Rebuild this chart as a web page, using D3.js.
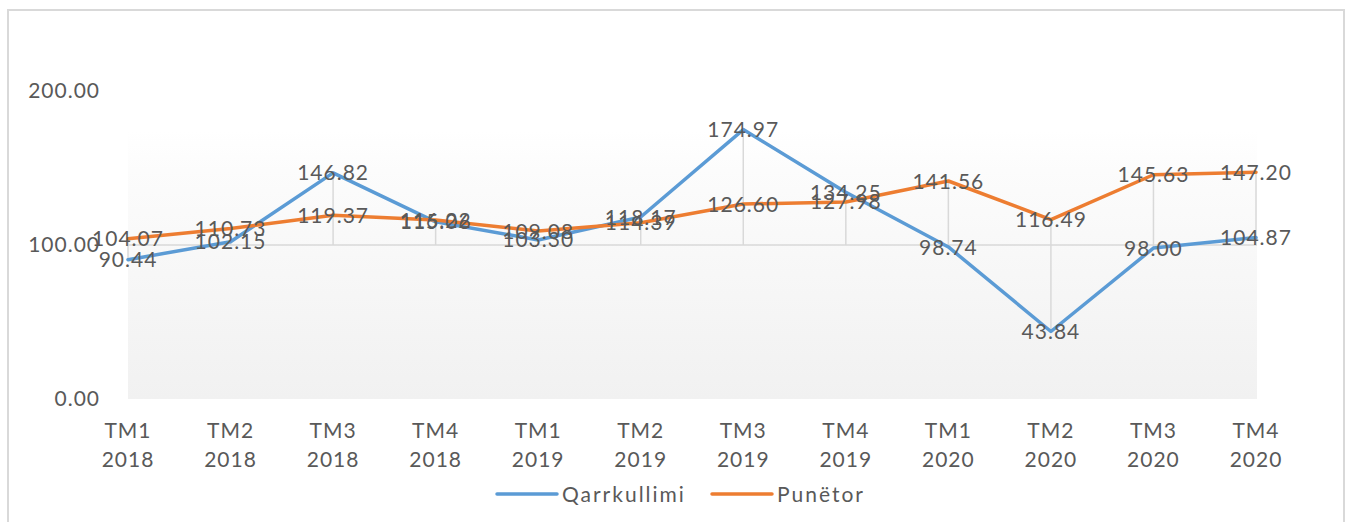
<!DOCTYPE html>
<html>
<head>
<meta charset="utf-8">
<script src="https://cdn.jsdelivr.net/npm/d3@7"></script>
<style>
  body { margin: 0; background: #fff; }
  text { font-family: Lato, "Open Sans", sans-serif; fill: #595959; }
</style>
</head>
<body>
<svg id="chart" width="1347" height="522"></svg>
<script>
// quarters shown on the category axis
let quarters = ['TM1', 'TM2', 'TM3', 'TM4', 'TM1', 'TM2', 'TM3', 'TM4', 'TM1', 'TM2', 'TM3', 'TM4'];
let years = ['2018', '2018', '2018', '2018', '2019', '2019', '2019', '2019', '2020', '2020', '2020', '2020'];
let categories = quarters.map((q, i) => q + ' ' + years[i]);

// series values
let qarrkullimi = [90.44, 102.15, 146.82, 115.06, 103.30, 118.17, 174.97, 134.25, 98.74, 43.84, 98.00, 104.87];
let punetor = [104.07, 110.73, 119.37, 116.22, 109.08, 114.39, 126.60, 127.98, 141.56, 116.49, 145.63, 147.20];

let seriesNames = ['Qarrkullimi', 'Punëtor'];
let seriesColors = ['#5B9BD5', '#ED7D31'];
let yTicks = [0, 100, 200];
let axisCross = 100;

let PLOT_LEFT = 128
let PLOT_RIGHT = 1257
let PLOT_TOP = 130

let svg = d3.select('#chart');

// chart area border
svg.append('rect')
    .attr('x', 8).attr('y', 10)
    .attr('width', 1336).attr('height', 540)
    .attr('fill', '#fff')
    .attr('stroke', '#d9d9d9')
    .attr('stroke-width', 2);

// x and y scales
let xScale = d3.scalePoint()
    .domain(categories)
    .range([PLOT_LEFT, PLOT_RIGHT - 1]);

let yScale = d3.scaleLinear()
    .domain([0, 200])
    .range([399, 91]);

// plot area gradient
let grad = svg.append('defs').append('linearGradient')
    .attr('id', 'plotGrad')
    .attr('x1', 0).attr('y1', 0).attr('x2', 0).attr('y2', 1);
grad.append('stop').attr('offset', '0%').attr('stop-color', '#ffffff');
grad.append('stop').attr('offset', '15%').attr('stop-color', '#fcfcfc');
grad.append('stop').attr('offset', '100%').attr('stop-color', '#f1f1f1');

svg.append('rect')
    .attr('x', PLOT_LEFT)
    .attr('y', PLOT_TOP)
    .attr('width', PLOT_RIGHT - PLOT_LEFT)
    .attr('height', yScale(0) - PLOT_TOP)
    .attr('fill', 'url(#plotGrad)');

// y axis labels
let yAxis = svg.append('g')
    .attr('transform', 'translate(100,0)')
    .call(d3.axisLeft(yScale)
        .tickValues(yTicks)
        .tickFormat(d3.format('.2f'))
        .tickSize(0)
        .tickPadding(0));
yAxis.select('.domain').remove();
yAxis.selectAll('text')
    .attr('font-size', 21)
    .attr('letter-spacing', 1)
    .attr('fill', '#595959')
    .attr('font-family', 'Lato, sans-serif');

// drop lines from the highest point to the category axis / lowest point
let rows = categories.map((c, i) => ({cat: c, a: qarrkullimi[i], b: punetor[i]}));
svg.append('g').selectAll('line')
    .data(rows)
    .join('line')
    .attr('x1', d => xScale(d.cat))
    .attr('x2', d => xScale(d.cat))
    .attr('y1', d => yScale(Math.max(d.a, d.b, axisCross)))
    .attr('y2', d => yScale(Math.min(d.a, d.b, axisCross)))
    .attr('stroke', '#d9d9d9')
    .attr('stroke-width', 1.5);

// category axis line crossing at 100
svg.append('line')
    .attr('x1', PLOT_LEFT).attr('x2', PLOT_RIGHT)
    .attr('y1', yScale(axisCross)).attr('y2', yScale(axisCross))
    .attr('stroke', '#d9d9d9')
    .attr('stroke-width', 1.5);

// category labels (two lines)
let catLabels = svg.append('g').selectAll('text')
    .data(categories)
    .join('text')
    .attr('text-anchor', 'middle')
    .attr('font-size', 21)
    .attr('letter-spacing', 1)
    .attr('x', d => xScale(d));
catLabels.append('tspan')
    .attr('x', d => xScale(d))
    .attr('y', 438)
    .text((d, i) => quarters[i]);
catLabels.append('tspan')
    .attr('x', d => xScale(d))
    .attr('y', 467)
    .text((d, i) => years[i]);

// the two series lines
let allSeries = [qarrkullimi, punetor];
let lineGenerator = d3.line()
    .x((d, i) => xScale(categories[i]))
    .y(d => yScale(d));

svg.append('g').selectAll('path')
    .data(allSeries)
    .join('path')
    .attr('d', d => lineGenerator(d))
    .attr('fill', 'none')
    .attr('stroke', (d, i) => seriesColors[i])
    .attr('stroke-width', 3.5)
    .attr('stroke-linejoin', 'round')
    .attr('stroke-linecap', 'round');

// data labels centred on the points
allSeries.forEach(function(values) {
    svg.append('g').selectAll('text')
        .data(values)
        .join('text')
        .attr('x', (d, i) => xScale(categories[i]))
        .attr('y', d => yScale(d))
        .attr('dy', '0.36em')
        .attr('text-anchor', 'middle')
        .attr('font-size', 21)
        .attr('letter-spacing', 1)
        .text(d => d3.format('.2f')(d));
});

// legend
let legendX = [497, 712];
let legend = svg.append('g').selectAll('g')
    .data(seriesNames)
    .join('g')
    .attr('transform', (d, i) => `translate(${legendX[i]},494)`);
legend.append('line')
    .attr('x1', 0).attr('x2', 60)
    .attr('stroke', (d, i) => seriesColors[i])
    .attr('stroke-width', 3.5)
    .attr('stroke-linecap', 'round');
legend.append('text')
    .attr('x', 65)
    .attr('dy', '0.36em')
    .attr('font-size', 21)
    .attr('letter-spacing', 2)
    .text(d => d);
</script>
</body>
</html>
